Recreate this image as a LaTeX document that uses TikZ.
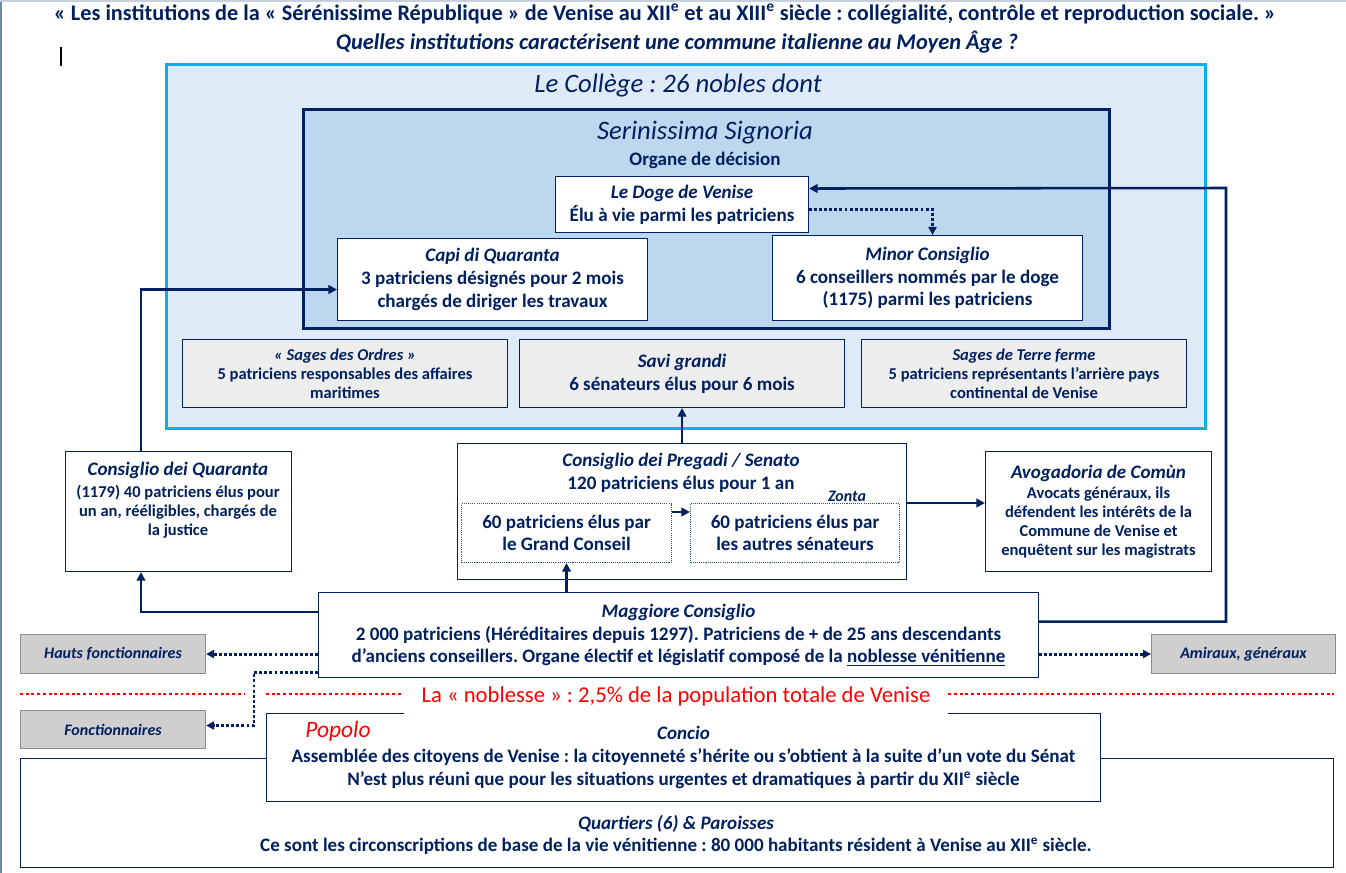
\documentclass[tikz,border=0pt]{standalone}
\usepackage{fontspec}
\setmainfont{Carlito}
\usetikzlibrary{arrows.meta}
\frenchspacing

\definecolor{navy}{HTML}{002060}
\definecolor{collegefill}{HTML}{DEEBF7}
\definecolor{collegeline}{HTML}{00B0F0}
\definecolor{signfill}{HTML}{BDD7EE}
\definecolor{sagegray}{HTML}{EDEDED}
\definecolor{fongray}{HTML}{D0CECE}
\definecolor{fonline}{HTML}{8C8C8C}
\definecolor{noblered}{HTML}{FF0000}
\definecolor{pageedge}{HTML}{6F89A8}

\newcommand\mainf{\fontsize{14.3}{17}\selectfont}
\newcommand\smallf{\fontsize{12.4}{14.3}\selectfont}

\tikzset{
  wh/.style 2 args={minimum width=#1*0.75pt, minimum height=#2*0.75pt},
  plain/.style={inner sep=0pt, align=center, text=navy, font=\mainf\bfseries},
  box/.style={plain, draw=navy, fill=white, line width=0.8pt, anchor=north west},
  sagebox/.style={box, fill=sagegray, font=\smallf\bfseries},
  fonbox/.style={box, draw=fonline, fill=fongray, font=\fontsize{12}{14}\selectfont\bfseries\itshape},
  dotbox/.style={box, draw=navy!80, dash pattern=on 0.8pt off 0.8pt},
  head/.style={plain, font=\fontsize{20}{24}\selectfont\itshape},
  title/.style={plain, font=\fontsize{16.7}{20}\selectfont\bfseries},
  link/.style={draw=navy, line width=1.9pt, -{Triangle[length=6.5pt,width=6.5pt]}},
  dotlink/.style={link, line width=2.2pt, dash pattern=on 2.2pt off 1.6pt,
    -{Triangle[length=6pt,width=6pt]}},
  noble/.style={draw=noblered, line width=2.2pt, dash pattern=on 2.2pt off 2.1pt},
}

\begin{document}
\begin{tikzpicture}[x=0.75pt, y=-0.75pt]
\useasboundingbox (0,0) rectangle (1346,873);
\fill[white] (0,0) rectangle (1346,873);
\draw[pageedge, line width=1.5pt] (1,0) -- (1,873);
\draw[pageedge!40, line width=1pt] (0,1) -- (1346,1);

% titres
\node[title] (titre) at (665,14) {« Les institutions de la « Sérénissime République » de Venise au XII\textsuperscript{e} et au XIII\textsuperscript{e} siècle : collégialité, contrôle et reproduction sociale. »};
\node[title, font=\fontsize{16.8}{20}\selectfont\bfseries\itshape] (question) at (677,42) {Quelles institutions caractérisent une commune italienne au Moyen Âge ?};
\draw[black, line width=1.1pt] (61,47) -- (61,66);

% le College et la Signoria
\node[box, draw=collegeline, fill=collegefill, line width=2.3pt, wh={1039}{364}] (college) at (165,63) {};
\node[head] (collegetxt) at (678,86) {Le Collège : 26 nobles dont};
\node[box, fill=signfill, line width=2.3pt, wh={806}{219}] (signoria) at (302,108) {};
\node[head] (signoriatxt) at (705,133) {Serinissima Signoria};
\node[plain] (organe) at (705,160) {Organe de décision};

\node[box, wh={253}{56}] (doge) at (555,176) {{\itshape Le Doge de Venise}\\ Élu à vie parmi les patriciens};
\node[box, wh={310}{82}] (capi) at (337,238) {{\itshape Capi di Quaranta}\\ 3 patriciens désignés pour 2 mois\\ chargés de diriger les travaux};
\node[box, wh={310}{85}] (minor) at (772,235) {{\itshape Minor Consiglio}\\ 6 conseillers nommés par le doge\\ (1175) parmi les patriciens};

% les sages
\node[sagebox, wh={325}{68}] (ordres) at (182,339) {{\itshape « Sages des Ordres »}\\ 5 patriciens responsables des affaires\\ maritimes};
\node[box, fill=sagegray, wh={325}{68}] (savi) at (519,339) {{\itshape Savi grandi}\\ 6 sénateurs élus pour 6 mois};
\node[sagebox, wh={325}{68}] (terre) at (861,339) {{\itshape Sages de Terre ferme}\\ 5 patriciens représentants l’arrière pays\\ continental de Venise};

% conseils
\node[box, wh={226}{120}] (quaranta) at (65,451) {};
\node[plain, anchor=north, font=\smallf\bfseries] (quarantatxt) at (178,462) {{\mainf\itshape Consiglio dei Quaranta}\\[2pt] (1179) 40 patriciens élus pour\\ un an, rééligibles, chargés de\\ la justice};

\node[box, wh={449}{136}] (pregadi) at (457,443) {};
\node[plain, anchor=north] (pregaditxt) at (681,453) {{\itshape Consiglio dei Pregadi / Senato}\\ 120 patriciens élus pour 1 an};
\node[dotbox, wh={210}{59}] (grand) at (461,503) {60 patriciens élus par\\ le Grand Conseil};
\node[dotbox, wh={209}{59}] (autres) at (690,503) {60 patriciens élus par\\ les autres sénateurs};
\node[plain, fill=white, font=\fontsize{12}{14}\selectfont\bfseries\itshape, wh={70}{12}] (zonta) at (847,496) {Zonta};

\node[box, font=\smallf\bfseries, wh={226}{120}] (avoga) at (985,451) {{\mainf\itshape Avogadoria de Comùn}\\[1pt] Avocats généraux, ils\\ défendent les intérêts de la\\ Commune de Venise et\\ enquêtent sur les magistrats};

\node[box, wh={720}{85}] (maggiore) at (318,592) {{\itshape Maggiore Consiglio}\\ 2 000 patriciens (Héréditaires depuis 1297). Patriciens de + de 25 ans descendants\\ d’anciens conseillers. Organe électif et législatif composé de la \underline{noblesse vénitienne}};

% fonctionnaires
\node[fonbox, wh={185}{39}] (hauts) at (20,634) {Hauts fonctionnaires};
\node[fonbox, wh={184}{39}] (amiraux) at (1151,634) {Amiraux, généraux};
\node[fonbox, wh={185}{38}] (fonct) at (20,710) {Fonctionnaires};

% popolo
\node[box, wh={1313}{109}] (quartiers) at (20,758) {};
\node[plain] (quartierstxt) at (676,835) {{\itshape Quartiers (6) \& Paroisses}\\ Ce sont les circonscriptions de base de la vie vénitienne : 80 000 habitants résident à Venise au XII\textsuperscript{e} siècle.};
\node[box, wh={834}{88}] (concio) at (266,713) {{\itshape Concio}\\ Assemblée des citoyens de Venise : la citoyenneté s’hérite ou s’obtient à la suite d’un vote du Sénat\\ N’est plus réuni que pour les situations urgentes et dramatiques à partir du XII\textsuperscript{e} siècle};
\draw[noble] (20,694) -- (245,694);
\draw[noble] (266,694) -- (1334,694);
\node[plain, fill=white, text=noblered, font=\fontsize{17}{20}\selectfont, wh={544}{36}] (noblesse) at (676,696) {La « noblesse » : 2,5\% de la population totale de Venise};
\node[plain, text=noblered, font=\fontsize{17.6}{20}\selectfont\itshape] (popolo) at (338,731) {Popolo};

% liens
\coordinate (retour) at (1226,188);
\coordinate (fcoude) at (254,700);
\draw[link] ([xshift=57pt]quaranta.north west) |- ([yshift=-7.5pt]capi.west);
\draw[link] ([yshift=-15pt]maggiore.north west) -| ([xshift=57pt]quaranta.south west);
\draw[link] (maggiore.north -| grand.south) -- (grand.south);
\draw[link] (pregadi.north) -- (savi.south);
\draw[link] ([yshift=-6.75pt]grand.north east) -- ([yshift=-6.75pt]autres.north west);
\draw[link] (pregadi.east |- autres.north) -- (avoga.west |- autres.north);
\draw[link] ([yshift=10pt]maggiore.east) -| (retour) -- ([yshift=12pt]doge.east);
\draw[dotlink] ([yshift=-3.75pt]doge.east) -| ([xshift=3.75pt]minor.north);
\draw[dotlink] (maggiore.west |- hauts.east) -- (hauts.east);
\draw[dotlink] (maggiore.east |- amiraux.west) -- (amiraux.west);
\draw[dotlink] ([yshift=-28.1pt]maggiore.west) -| (fcoude) |- ([yshift=3pt]fonct.east);
\end{tikzpicture}
\end{document}
